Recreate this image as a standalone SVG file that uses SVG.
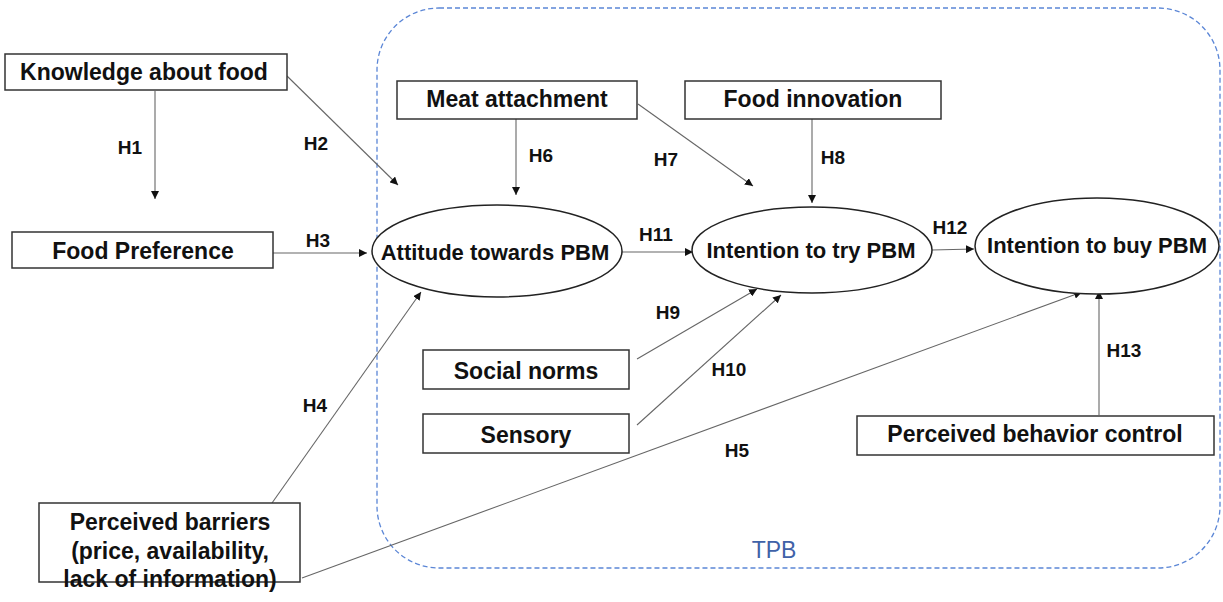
<svg xmlns="http://www.w3.org/2000/svg" width="1223" height="602" viewBox="0 0 1223 602">
<style>
.box{fill:#fff;stroke:#333;stroke-width:1.5}
.ell{fill:#fff;stroke:#222;stroke-width:1.5}
.t{font-family:"Liberation Sans",Arial,sans-serif;font-weight:bold;font-size:23px;fill:#111;text-anchor:middle;dominant-baseline:central}
.e{font-family:"Liberation Sans",Arial,sans-serif;font-weight:bold;font-size:22px;fill:#111;text-anchor:middle;dominant-baseline:central}
.h{font-family:"Liberation Sans",Arial,sans-serif;font-weight:bold;font-size:19px;fill:#111;text-anchor:middle;dominant-baseline:central}
.c{stroke:#666;stroke-width:1.1;fill:none;marker-end:url(#ah)}
</style>
<defs>
<marker id="ah" viewBox="0 0 10 10" refX="10" refY="5" markerWidth="8" markerHeight="8" markerUnits="userSpaceOnUse" orient="auto">
<path d="M0,0 L10,5 L0,10 z" fill="#111"/>
</marker>
</defs>
<rect width="1223" height="602" fill="#fff"/>
<g id="tpb">
<rect x="377" y="8" width="843" height="560" rx="62" ry="62" fill="none" stroke="#5b86d6" stroke-width="1.3" stroke-dasharray="5,3"/>
<text x="774" y="550" font-family="Liberation Sans,Arial,sans-serif" font-size="23" fill="#3f62a8" text-anchor="middle" dominant-baseline="central">TPB</text>
</g>
<g id="connectors">
<line class="c" x1="155" y1="91" x2="155" y2="199"/>
<line class="c" x1="287" y1="76" x2="398" y2="185"/>
<line class="c" x1="273" y1="253" x2="367" y2="253"/>
<line class="c" x1="272" y1="503" x2="421" y2="292"/>
<line class="c" x1="302" y1="578" x2="1082" y2="292"/>
<line class="c" x1="516" y1="119" x2="516" y2="195"/>
<line class="c" x1="638" y1="104" x2="753" y2="186"/>
<line class="c" x1="812" y1="119" x2="812" y2="203"/>
<line class="c" x1="637" y1="359" x2="757" y2="289"/>
<line class="c" x1="637" y1="425" x2="781" y2="295"/>
<line class="c" x1="622" y1="252" x2="693" y2="252"/>
<line class="c" x1="932" y1="250" x2="974" y2="249"/>
<line class="c" x1="1099" y1="415" x2="1099" y2="291"/>
<text class="h" x="130" y="147">H1</text>
<text class="h" x="316" y="143">H2</text>
<text class="h" x="318" y="240">H3</text>
<text class="h" x="315" y="405">H4</text>
<text class="h" x="737" y="450">H5</text>
<text class="h" x="541" y="155">H6</text>
<text class="h" x="666" y="159">H7</text>
<text class="h" x="833" y="157">H8</text>
<text class="h" x="668" y="312">H9</text>
<text class="h" x="729" y="369">H10</text>
<text class="h" x="656" y="234">H11</text>
<text class="h" x="950" y="227">H12</text>
<text class="h" x="1124" y="350">H13</text>
</g>
<g id="knowledge"><rect class="box" x="5" y="54" width="282" height="36"/><text class="t" x="144" y="72">Knowledge about food</text></g>
<g id="preference"><rect class="box" x="12" y="232" width="261" height="36"/><text class="t" x="143" y="251">Food Preference</text></g>
<g id="meat"><rect class="box" x="397" y="81" width="240" height="38"/><text class="t" x="517" y="99">Meat attachment</text></g>
<g id="innovation"><rect class="box" x="685" y="81" width="256" height="38"/><text class="t" x="813" y="99">Food innovation</text></g>
<g id="attitude"><ellipse class="ell" cx="497" cy="251" rx="125" ry="46"/><text class="e" x="495" y="252">Attitude towards PBM</text></g>
<g id="try"><ellipse class="ell" cx="812" cy="250" rx="120" ry="43"/><text class="e" x="811" y="250">Intention to try PBM</text></g>
<g id="buy"><ellipse class="ell" cx="1097" cy="246" rx="122" ry="48"/><text class="e" x="1097" y="245">Intention to buy PBM</text></g>
<g id="social"><rect class="box" x="423" y="350" width="206" height="39"/><text class="t" x="526" y="371">Social norms</text></g>
<g id="sensory"><rect class="box" x="423" y="414" width="206" height="39"/><text class="t" x="526" y="435">Sensory</text></g>
<g id="pbc"><rect class="box" x="857" y="416" width="357" height="39"/><text class="t" x="1035" y="434">Perceived behavior control</text></g>
<g id="barriers"><rect class="box" x="39" y="503" width="261" height="79"/>
<text class="t" x="170" y="522">Perceived barriers</text>
<text class="t" x="170" y="551">(price, availability,</text>
<text class="t" x="170" y="579">lack of information)</text></g>
</svg>
